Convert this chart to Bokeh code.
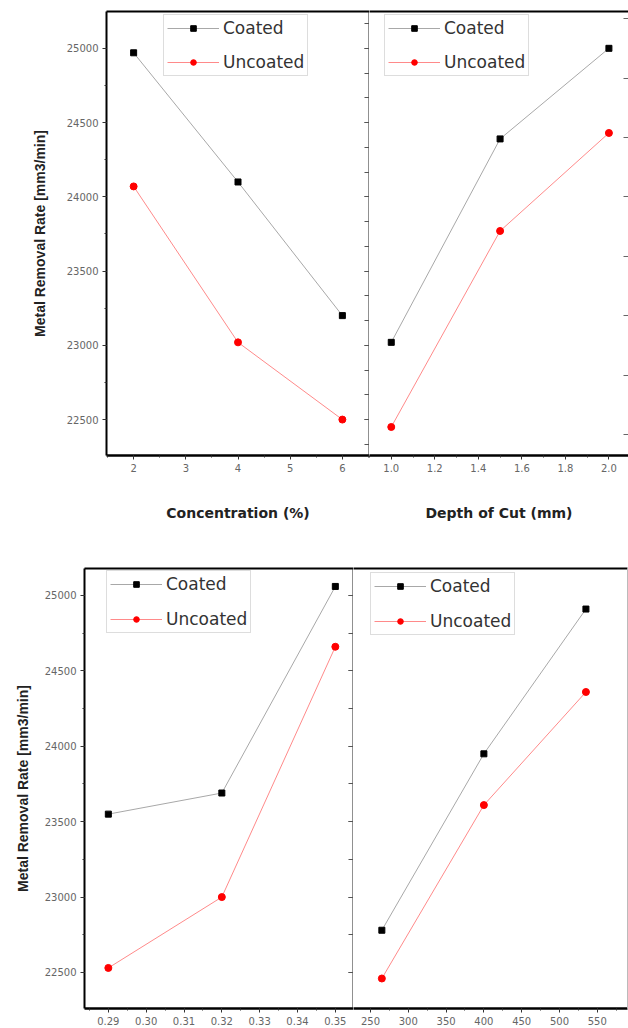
from bokeh.plotting import figure
from bokeh.layouts import column, row
from bokeh.models import (LinearAxis, Legend, Range1d, BasicTicker, SingleIntervalTicker,
                          NumeralTickFormatter)
from bokeh.embed import file_html
from bokeh.resources import INLINE

# ---- data ----
concentration = [2, 4, 6]
conc_coated = [24970, 24100, 23200]
conc_uncoated = [24070, 23020, 22500]

depth = [1.0, 1.5, 2.0]
depth_coated = [23020, 24390, 25000]
depth_uncoated = [22450, 23770, 24430]

feed = [0.29, 0.32, 0.35]
feed_coated = [23550, 23690, 25060]
feed_uncoated = [22530, 23000, 24660]

speed = [265, 400, 535]
speed_coated = [22780, 23950, 24910]
speed_uncoated = [22460, 23610, 24360]

series_names = ["Coated", "Uncoated"]
y_title = "Metal Removal Rate [mm3/min]"
x_titles = ["Concentration (%)", "Depth of Cut (mm)"]

TICK_FONT = "DejaVu Sans"
GRAY_LINE = "#a8a8a8"
RED_LINE = "#ff8a8a"


def style_axis(ax, size="10px"):
    ax.major_label_text_font = TICK_FONT
    ax.major_label_text_font_size = size
    ax.major_label_text_color = "#666666"
    ax.major_tick_line_color = "#333333"
    ax.minor_tick_line_color = "#333333"
    ax.major_tick_out = 4
    ax.major_tick_in = 0
    ax.minor_tick_out = 2
    ax.minor_tick_in = 0
    ax.major_label_standoff = 4


def blank_axis(ax):
    ax.major_label_text_color = None
    ax.major_label_text_font_size = "1px"
    ax.major_label_standoff = 0
    ax.axis_label = None


def make_fig(width, height, xr, yr, bl, bt, bb, br=0):
    p = figure(width=width, height=height, x_range=Range1d(*xr), y_range=Range1d(*yr),
               output_backend="svg", toolbar_location=None,
               min_border_left=bl, min_border_right=br, min_border_top=bt, min_border_bottom=bb,
               x_axis_location=None, y_axis_location=None)
    p.grid.visible = False
    p.outline_line_color = None
    p.background_fill_color = "white"
    p.border_fill_color = "white"
    return p


def add_series(p, x, yc, yu):
    rc = [p.line(x, yc, line_color=GRAY_LINE, line_width=1),
          p.scatter(x, yc, marker="square", size=6, color="black")]
    ru = [p.line(x, yu, line_color=RED_LINE, line_width=1),
          p.scatter(x, yu, marker="circle", size=7, color="red")]
    return rc, ru


def add_legend(p, rc, ru, loc, spacing=14):
    leg = Legend(items=[(series_names[0], rc), (series_names[1], ru)], location=loc)
    leg.label_text_font = "DejaVu Sans"
    leg.label_text_font_size = "17px"
    leg.label_text_color = "#333333"
    leg.glyph_width = 52
    leg.glyph_height = 14
    leg.label_height = 19
    leg.label_standoff = 4
    leg.padding = 3
    leg.spacing = spacing
    leg.margin = 0
    leg.border_line_color = "#bbbbbb"
    leg.border_line_width = 1
    leg.background_fill_color = "white"
    leg.background_fill_alpha = 1
    p.add_layout(leg)


def top_line(p, w=2):
    ax = LinearAxis(ticker=[], major_tick_out=0, major_tick_in=0, minor_tick_out=0,
                    axis_line_width=w, axis_line_color="black")
    blank_axis(ax)
    p.add_layout(ax, "above")


def divider(p, minor):
    ax = LinearAxis(ticker=BasicTicker(desired_num_ticks=6, num_minor_ticks=minor))
    ax.axis_line_width = 2
    ax.axis_line_color = "#222222"
    ax.major_tick_out = 0
    ax.major_tick_in = 5
    ax.minor_tick_out = 0
    ax.minor_tick_in = 5
    ax.major_tick_line_color = "#555555"
    ax.minor_tick_line_color = "#555555"
    blank_axis(ax)
    p.add_layout(ax, "right")


def x_title_style(ax, text):
    ax.axis_label = text
    ax.axis_label_text_font = "DejaVu Sans"
    ax.axis_label_text_font_style = "bold"
    ax.axis_label_text_font_size = "14px"
    ax.axis_label_text_color = "#222222"
    ax.axis_label_standoff = 30


def y_title_style(ax, standoff):
    ax.axis_label = y_title
    ax.axis_label_text_font = "Liberation Sans"
    ax.axis_label_text_font_style = "bold"
    ax.axis_label_text_font_size = "14px"
    ax.axis_label_text_color = "#222222"
    ax.axis_label_standoff = standoff


# ---------------- top row ----------------
TOP_H = 540
top_y = (22258, 25248)

p1 = make_fig(369, TOP_H, (1.48, 6.52), top_y, bl=106, bt=11, bb=TOP_H - 455)
ly = LinearAxis(ticker=SingleIntervalTicker(interval=500, num_minor_ticks=2))
style_axis(ly)
ly.axis_line_width = 2
ly.axis_line_color = "black"
y_title_style(ly, 16)
p1.add_layout(ly, "left")
bx = LinearAxis(ticker=SingleIntervalTicker(interval=1, num_minor_ticks=2))
style_axis(bx)
bx.axis_line_width = 2.5
bx.axis_line_color = "black"
x_title_style(bx, x_titles[0])
p1.add_layout(bx, "below")
top_line(p1)
divider(p1, 3)
rc, ru = add_series(p1, concentration, conc_coated, conc_uncoated)
add_legend(p1, rc, ru, (57, 379))

p2 = make_fig(259, TOP_H, (0.9, 2.09), top_y, bl=0, bt=11, bb=TOP_H - 455)
bx2 = LinearAxis(ticker=SingleIntervalTicker(interval=0.2, num_minor_ticks=2),
                 formatter=NumeralTickFormatter(format="0.0"))
style_axis(bx2)
bx2.axis_line_width = 2.5
bx2.axis_line_color = "black"
x_title_style(bx2, x_titles[1])
p2.add_layout(bx2, "below")
top_line(p2)
ra = LinearAxis(ticker=SingleIntervalTicker(interval=400, num_minor_ticks=0))
ra.axis_line_color = None
ra.major_tick_out = 0
ra.major_tick_in = 5
ra.major_tick_line_color = "#666666"
blank_axis(ra)
p2.add_layout(ra, "right")
rc, ru = add_series(p2, depth, depth_coated, depth_uncoated)
add_legend(p2, rc, ru, (15, 379))

# ---------------- bottom row ----------------
BOT_H = 1028 - TOP_H
bot_y = (22261, 25179)
bt_b = 568 - TOP_H

p3 = make_fig(353, BOT_H, (0.2837, 0.3548), bot_y, bl=84, bt=bt_b, bb=BOT_H - (1008 - TOP_H))
ly3 = LinearAxis(ticker=SingleIntervalTicker(interval=500, num_minor_ticks=2))
style_axis(ly3)
ly3.axis_line_width = 2
ly3.axis_line_color = "black"
y_title_style(ly3, 11)
p3.add_layout(ly3, "left")
bx3 = LinearAxis(ticker=SingleIntervalTicker(interval=0.01, num_minor_ticks=2),
                 formatter=NumeralTickFormatter(format="0.00"))
style_axis(bx3)
bx3.axis_line_width = 2.5
bx3.axis_line_color = "black"
p3.add_layout(bx3, "below")
top_line(p3)
divider(p3, 2)
rc, ru = add_series(p3, feed, feed_coated, feed_uncoated)
add_legend(p3, rc, ru, (22, 375), spacing=15)

p4 = make_fig(275, BOT_H, (227.5, 590), bot_y, bl=0, bt=bt_b, bb=BOT_H - (1008 - TOP_H), br=1)
bx4 = LinearAxis(ticker=SingleIntervalTicker(interval=50, num_minor_ticks=2))
style_axis(bx4)
bx4.axis_line_width = 2.5
bx4.axis_line_color = "black"
p4.add_layout(bx4, "below")
top_line(p4)
ra4 = LinearAxis(ticker=[])
ra4.axis_line_color = "#bbbbbb"
ra4.major_tick_out = 0
ra4.minor_tick_out = 0
blank_axis(ra4)
p4.add_layout(ra4, "right")
rc, ru = add_series(p4, speed, speed_coated, speed_uncoated)
add_legend(p4, rc, ru, (17, 373), spacing=15)

layout = column(row(p1, p2, spacing=0), row(p3, p4, spacing=0), spacing=0)
open("out.html", "w").write(file_html(layout, INLINE))
